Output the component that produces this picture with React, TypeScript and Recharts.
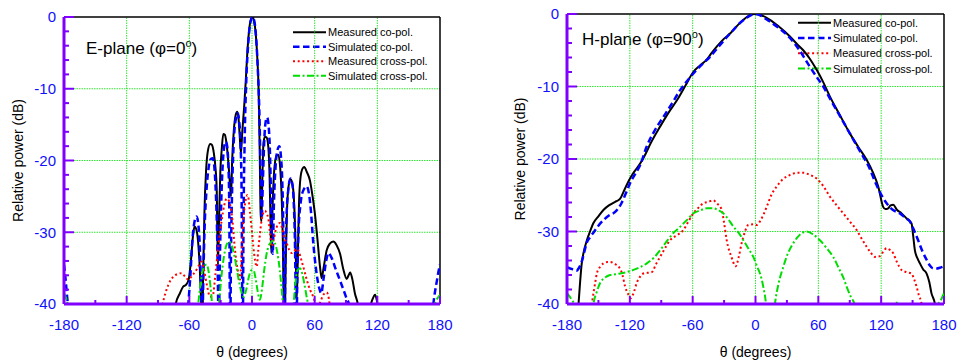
import React from 'react';
import { LineChart, Line, XAxis, YAxis, ReferenceLine } from 'recharts';

type Pt = [number, number];

// axes
const thetaTicks = [-180, -150, -120, -90, -60, -30, 0, 30, 60, 90, 120, 150, 180];
const dbTicks = [-40, -38, -36, -34, -32, -30, -28, -26, -24, -22, -20, -18, -16, -14, -12, -10, -8, -6, -4, -2, 0];
const gridTheta = [-120, -60, 0, 60, 120];
const gridDb = [-30, -20, -10];
const legendNames = ['Measured co-pol.', 'Simulated co-pol.', 'Measured cross-pol.', 'Simulated cross-pol.'];

// E-plane (phi = 0), [theta, dB]
const eMeasCo: Pt[] = [
  [-76, -44], [-73, -40], [-69, -38.5], [-66, -37.6], [-63, -37.3], [-60.5, -36.5], [-58.5, -34], [-56.5, -30.5],
  [-55, -29.2], [-53.5, -29.5], [-51.5, -31.5], [-50, -35], [-48.5, -40.5], [-47.5, -44], [-46.8, -36], [-45.5, -27],
  [-44, -21.5], [-42.4, -18.8], [-40, -17.7], [-38.5, -17.8], [-36.5, -19], [-35, -21], [-33.8, -24], [-32.6, -34.5],
  [-31.5, -28], [-30.3, -21.5], [-29, -18.5], [-27.5, -16.3], [-26, -16.4], [-24.5, -17.5], [-22.5, -20.5], [-21, -23.5],
  [-20.1, -25], [-19, -20], [-17.5, -16], [-15.5, -13.6], [-14.1, -13.2], [-12.8, -14.3], [-11.8, -16.5], [-10.6, -19],
  [-9.3, -16], [-7.5, -12.5], [-6, -9], [-4.5, -5], [-3, -2.2], [-1.5, -0.6], [0.5, 0], [2, -0.6], [3.5, -2.2], [5, -5.5],
  [6.3, -10], [7.3, -18], [8.3, -27.5], [9, -28.5], [10, -22], [11, -17.5], [12.4, -16.7], [14, -16.8], [15.6, -18.1],
  [16.8, -22], [17.8, -29], [18.5, -32.9], [19.8, -26], [21.5, -21], [23.6, -19.3], [25.2, -19.2], [27, -21], [28.4, -25],
  [29.5, -31], [30.5, -40.5], [31.2, -44], [32.3, -34], [33.5, -27], [35, -23.6], [37, -22.6], [39, -23.5], [40.5, -26.5],
  [41.8, -32], [42.8, -39.5], [43.8, -34], [45, -26], [46.5, -22.3], [48.5, -21.1], [50, -20.9], [52.5, -21.6],
  [55.5, -22.8], [58, -25], [60.3, -27.5], [63, -31.5], [65.1, -34.8], [66.7, -36.4], [68.5, -35], [71.5, -32.5],
  [74.5, -31.6], [77.8, -31.3], [81, -31.8], [84.3, -33], [87.5, -35.2], [90.6, -36.5], [92.5, -36], [94, -35.6],
  [96, -36.5], [98.5, -38.5], [101.8, -40.5], [104, -44], [109, -44], [113, -40.5], [115.5, -39.3], [117.8, -38.7],
  [119.5, -39.5], [121, -40.8], [123, -44],
];
const eSimCo: Pt[] = [
  [-180, -34.5], [-178.5, -36.5], [-177, -39], [-175.5, -41], [-174, -44],
  [-64, -44], [-61, -40], [-59, -36], [-57, -31], [-55, -28.5], [-53, -27.8], [-51.3, -29], [-50, -32], [-49, -36.5],
  [-48.2, -41], [-47.5, -44], [-46.8, -38], [-45.5, -30], [-43.5, -24], [-41.5, -21], [-39.5, -19.8], [-37.5, -19.7],
  [-36, -21], [-34.5, -25], [-33.3, -31], [-32.3, -40.5], [-31.8, -44], [-31, -36], [-29.5, -26], [-28, -20.5],
  [-26.5, -18], [-25.2, -17.4], [-24, -17.8], [-22.8, -20], [-21.8, -26], [-21.2, -40.5], [-20.8, -44], [-20.2, -34],
  [-19, -24], [-17.5, -17.5], [-15.5, -14.2], [-13.7, -13.4], [-12.3, -14.5], [-11, -17.5], [-10, -24], [-9.3, -40.5],
  [-8.8, -44], [-8.2, -30], [-7, -17], [-5.5, -9], [-3.5, -3.5], [-1.5, -0.7], [0.6, 0], [2.5, -0.8], [4, -3], [5.5, -7],
  [7, -13], [8.2, -21], [9.3, -28], [10.4, -23], [11.8, -17], [13.2, -14.5], [14.5, -14], [15.8, -15], [17, -18],
  [18, -23.5], [19, -31], [19.8, -33], [21, -26], [22.5, -21], [24.3, -18.6], [26.2, -18], [27.8, -19.6], [29, -23],
  [30, -30], [30.6, -40.5], [31.2, -44], [31.8, -36], [33, -28], [34.8, -24], [36.8, -22.5], [38.5, -23.2], [40, -26],
  [41.2, -32], [42, -40.5], [42.6, -44], [43.3, -37], [44.5, -30], [46.5, -26], [49, -24.2], [52.3, -23.6],
  [54.5, -24.6], [56.5, -27.2], [58.5, -31.2], [61, -34.8], [64.4, -37.8], [66.3, -38.5], [68.5, -36.5], [71, -34],
  [73.3, -32.9], [76, -33.5], [80.3, -35.2], [85, -37], [90, -39], [93.5, -40.5], [95.5, -44],
  [171.5, -44], [173.3, -40.5], [175, -38.5], [177, -36.8], [178.5, -35.5], [180, -34.5],
];
const eMeasX: Pt[] = [
  [-90, -44], [-85.5, -40], [-80, -37.3], [-75.4, -36.2], [-71, -35.8], [-67.3, -35.7], [-64, -36.2], [-61, -36.6],
  [-57, -36], [-53, -35.2], [-50.5, -34.5], [-48.2, -34.1], [-46, -35.2], [-43, -37.5], [-40.2, -39], [-37.5, -38.8],
  [-35, -35.8], [-32.3, -32], [-29, -28.3], [-26.5, -26.2], [-24.2, -25.3], [-22.5, -25.5], [-19.5, -27.3],
  [-16.3, -32.4], [-13.1, -35.7], [-11.5, -36.6], [-10, -33.5], [-8.9, -29.7], [-7.2, -26.6], [-5.7, -25.3],
  [-4.5, -24.8], [-3.2, -25.4], [-1.9, -27.3], [0, -30], [1.3, -32], [3, -34], [4.5, -34.8], [6, -32.5], [7.7, -30.1],
  [9.3, -28.2], [10.8, -27.3], [12.4, -27], [14, -27.4], [15.6, -28.1], [17.2, -30], [18.8, -32], [20.5, -31.2],
  [22.5, -29.8], [24.5, -29], [26.8, -28.7], [29, -29.5], [31, -30.8], [33.2, -31.5], [35.5, -32.4], [38, -32.9],
  [40.5, -32.6], [42.8, -32.3], [45, -32.8], [47.5, -34], [50, -35.3], [52.4, -36.6], [55.5, -38], [58.7, -39],
  [61, -40], [63, -40.5], [65.5, -39.7], [68.3, -38.7], [71.5, -38.4], [73.5, -39.2], [75, -41], [77, -44],
];
const eSimX: Pt[] = [
  [-180, -38.5], [-178, -39.2], [-176, -40.5], [-174, -44],
  [-54, -44], [-51.5, -40], [-49.5, -37.5], [-47.5, -35.5], [-45.5, -34.7], [-43.4, -34.5], [-41.5, -35.5],
  [-39.8, -37.5], [-38.3, -40], [-37, -44], [-33.5, -44], [-31.5, -40], [-29.5, -36.5], [-27, -33.5], [-24.5, -31.8],
  [-22, -31.3], [-19.5, -31.8], [-17, -33.2], [-14.5, -35.2], [-12, -37.2], [-10.2, -38.3], [-8, -39], [-5.5, -38],
  [-3, -36.2], [-0.5, -35.3], [1.5, -35.3], [3.5, -36.5], [5.5, -38.3], [7.6, -39.4], [9.5, -38], [11.5, -35.5],
  [14, -33], [17, -31.6], [20.4, -31.2], [23, -32], [25.5, -34], [27.8, -37], [29.7, -40.5], [31, -44],
  [37.5, -44], [39.6, -40.5], [41.5, -37.2], [43.5, -35.3], [45.9, -35], [48.2, -35.8], [50.5, -37.5], [53, -39.5],
  [55.5, -41], [57, -44],
  [171, -44], [174, -40.5], [176.5, -39.5], [178.5, -39], [180, -38.8],
];

// H-plane (phi = 90), [theta, dB]
const hMeasCo: Pt[] = [
  [-172, -44], [-169, -40], [-167.5, -37], [-166, -34.5], [-164.3, -33], [-161, -31.2], [-158, -30], [-155, -28.9],
  [-150, -27.9], [-145, -27], [-140, -26.4], [-134, -25.9], [-131, -25.7], [-128.5, -25.3], [-125, -24.2],
  [-121, -23], [-117, -22], [-110, -20.6], [-105, -19.3], [-100, -17.8], [-91, -15.5], [-83, -13.6], [-75, -11.9],
  [-67, -9.9], [-59.4, -8], [-53, -7.1], [-46.6, -6.3], [-42, -5.4], [-37, -4.5], [-30, -3.4], [-24.3, -2.7],
  [-18, -1.7], [-11.6, -0.8], [-6, -0.2], [0, 0], [6, -0.2], [13.8, -0.8], [22, -1.7], [32.9, -3.1], [40, -4.2],
  [45.6, -5], [52, -6.2], [58.4, -7.7], [65, -9.5], [71.1, -11.4], [80, -13.8], [90.2, -16.5], [98, -18.3],
  [106.1, -20.1], [112, -21.8], [117.2, -23.8], [121.9, -26.6], [124, -26.9], [126.7, -26.8], [129, -26.4],
  [131.5, -26.3], [135, -27], [139.5, -27.5], [144.3, -28.2], [149, -28.9], [150.5, -30.5], [152.2, -32.6],
  [155, -33.8], [157, -34.4], [160, -35.2], [163.4, -35.8], [166, -37], [168, -38.5], [171.3, -40], [173, -44],
];
const hSimCo: Pt[] = [
  [-180, -34.9], [-175, -35.2], [-171, -35.4], [-168.5, -35], [-166, -34.2], [-164.3, -33.3], [-161, -31.5],
  [-158, -30.8], [-155, -30.2], [-150, -29.2], [-145, -28.4], [-140, -27.8], [-134, -27.3], [-128, -26.1],
  [-124, -24.8], [-120, -23.4], [-115, -22.1], [-110, -20.8], [-104, -18.3], [-96, -16], [-88, -14.2], [-80, -12.4],
  [-72, -10.5], [-64, -9], [-56.1, -7.7], [-50, -6.8], [-43.4, -5.9], [-34, -4.3], [-24.3, -2.7], [-12, -0.9], [0, 0],
  [12, -0.9], [22, -1.9], [32.9, -3.3], [42, -5], [52, -7.3], [58, -8.6], [64.7, -10], [72, -11.9], [80, -13.9],
  [90.2, -16.5], [100, -19], [108, -21], [115.6, -23.6], [120, -24.9], [125.2, -26.1], [131, -27], [137.9, -27.5],
  [143, -28.1], [147.4, -28.6], [151, -29.7], [155.3, -31.2], [159, -32.6], [163.4, -33.9], [166.5, -34.7],
  [169.7, -35.1], [173, -35.1], [176, -35], [180, -34.8],
];
const hMeasX: Pt[] = [
  [-160, -44], [-156.3, -40], [-153, -37], [-151.5, -35.8], [-148, -34.8], [-145.2, -34.4], [-141, -34.2],
  [-138.8, -34.2], [-134, -34.5], [-130.9, -34.8], [-127, -36], [-124.5, -37.6], [-121, -38.8], [-119.1, -39.2],
  [-116, -38.3], [-113.4, -37.1], [-110, -36.2], [-107.1, -35.8], [-103, -35.7], [-99, -35.6], [-95, -34.5],
  [-91.1, -33.5], [-86, -32.2], [-81.6, -31.2], [-75, -30.5], [-68.9, -29.8], [-64, -28.6], [-59.4, -27.5],
  [-55, -26.8], [-49.8, -26.1], [-45, -25.9], [-40.3, -25.7], [-37, -26.1], [-32.3, -27], [-30, -28.8],
  [-27.5, -31.2], [-23, -33.5], [-18.9, -34.8], [-16, -33.5], [-13.2, -31.6], [-10, -30], [-6.9, -29.1], [-2, -29],
  [1.1, -29.1], [4.3, -28.6], [7.5, -27.7], [10.7, -26.6], [15, -25], [20.2, -23.8], [26, -22.8], [32.9, -22.2],
  [40, -21.9], [45.6, -21.9], [52, -22.2], [58.4, -22.7], [65, -23.8], [71.1, -25.2], [77, -26.3], [83.8, -27.5],
  [90, -28.6], [96.6, -29.8], [101, -30.9], [106.1, -32.1], [110, -32.9], [114, -33.5], [118.8, -33.4], [122, -32.8],
  [125.2, -32.3], [128, -32.5], [131.5, -33], [135, -34.2], [139.5, -35.3], [144, -35.6], [149, -35.8],
  [151.5, -36.6], [153.8, -37.6], [156, -38.8], [158.6, -40], [161, -44],
];
const hSimX: Pt[] = [
  [-180, -38.5], [-176, -39.3], [-172, -40.5], [-168, -44], [-158, -44], [-154.8, -40], [-151.5, -38.3],
  [-148.4, -37.1], [-144, -36.4], [-138.8, -36], [-134, -35.9], [-129.3, -35.8], [-123, -35.6], [-116.6, -35.3],
  [-110, -34.9], [-103.8, -34.4], [-97, -33.6], [-91.1, -32.6], [-85, -31.4], [-78.4, -30.2], [-73, -29.5],
  [-68.9, -28.9], [-64, -28.2], [-59.4, -27.5], [-53, -27.1], [-46.6, -26.8], [-40.3, -26.8], [-35, -27.1],
  [-30.7, -27.5], [-26, -28.3], [-21.2, -29.3], [-16, -30.2], [-11.6, -31.2], [-7, -32.3], [-2.1, -33.5], [2, -35],
  [4.3, -35.8], [7.4, -37.6], [10, -40], [12, -44], [16, -44], [18.6, -40], [22, -37.2], [26.5, -34.9], [31, -33],
  [36.1, -31.6], [42, -30.5], [48.9, -30], [55, -30.4], [61.5, -31.2], [68, -32.3], [74.2, -33.5], [80, -35.2],
  [84, -36.4], [87, -37.6], [91, -39], [95, -40.2], [98, -44], [128, -44], [131, -40.3], [134, -39.8], [137, -40.3],
  [140, -44], [170, -44], [173, -40.3], [176.5, -39.6], [180, -38.5],
];

const PURPLE = '#8000ff';
const BLUE = '#1010ff';
const GRID = '#33e633';
const FONT = '"Liberation Sans", Arial, sans-serif';

const STYLES = [
  { stroke: '#000000', width: 2, dash: undefined as string | undefined },
  { stroke: '#0000ff', width: 2.5, dash: '6.5 3.5' },
  { stroke: '#ff0000', width: 2, dash: '2 2.7' },
  { stroke: '#00dd00', width: 2, dash: '7 2.5 2 2.5' },
];

const toRows = (pts: Pt[]) => pts.map(([t, v]) => ({ t, v }));

const YTick = (props: any) => {
  const { x, y, payload } = props;
  const major = payload.value % 10 === 0;
  return (
    <g>
      <line x1={x} x2={x + (major ? 10 : 5)} y1={y} y2={y} stroke={PURPLE} strokeWidth={2} />
      {major && (
        <text x={x - 8} y={y + 5.3} textAnchor="end" fill={BLUE} fontSize={15} fontFamily={FONT}>
          {payload.value}
        </text>
      )}
    </g>
  );
};

const XTick = (props: any) => {
  const { x, y, payload } = props;
  const major = payload.value % 60 === 0;
  return (
    <g>
      <line x1={x} x2={x} y1={y} y2={y - (major ? 8 : 4)} stroke={PURPLE} strokeWidth={2} />
      {major && (
        <text x={x} y={y + 26} textAnchor="middle" fill={BLUE} fontSize={15} fontFamily={FONT}>
          {payload.value}
        </text>
      )}
    </g>
  );
};

interface PanelProps {
  left: number;
  width: number;
  top: number;
  right: number;
  axisW: number;
  series: Pt[][];
  title: string;
  titleX: number;
  titleY: number;
  legX: number;
  legRows: number[];
}

const Panel = ({ left, width, top, right, axisW, series, title, titleX, titleY, legX, legRows }: PanelProps) => {
  const plotMid = axisW + (width - axisW - right) / 2;
  const plotMidY = top + (304 - top) / 2;
  return (
    <div style={{ position: 'absolute', left, top: 0 }}>
      <LineChart width={width} height={360} margin={{ top, right, left: 0, bottom: 0 }}>
        <XAxis
          type="number"
          dataKey="t"
          domain={[-180, 180]}
          ticks={thetaTicks}
          interval={0}
          allowDataOverflow
          height={360 - 304}
          tickSize={0}
          tickMargin={0}
          tickLine={false}
          axisLine={{ stroke: PURPLE, strokeWidth: 3 }}
          tick={XTick}
        />
        <YAxis
          type="number"
          domain={[-40, 0]}
          ticks={dbTicks}
          interval={0}
          allowDataOverflow
          width={axisW}
          tickSize={0}
          tickMargin={0}
          tickLine={false}
          axisLine={{ stroke: PURPLE, strokeWidth: 3 }}
          tick={YTick}
        />
        {gridTheta.map((g) => (
          <ReferenceLine key={`gx${g}`} x={g} stroke={GRID} strokeDasharray="1.5 1" />
        ))}
        {gridDb.map((g) => (
          <ReferenceLine key={`gy${g}`} y={g} stroke={GRID} strokeDasharray="1.5 1" />
        ))}
        <ReferenceLine y={0} stroke="#000" strokeWidth={1.5} />
        <ReferenceLine x={180} stroke="#000" strokeWidth={1.5} />
        {series.map((pts, i) => (
          <Line
            key={legendNames[i]}
            data={toRows(pts)}
            dataKey="v"
            name={legendNames[i]}
            type="monotone"
            stroke={STYLES[i].stroke}
            strokeWidth={STYLES[i].width}
            strokeDasharray={STYLES[i].dash}
            dot={false}
            activeDot={false}
            isAnimationActive={false}
          />
        ))}
        <text x={titleX} y={titleY} fontSize={17} fontFamily={FONT} fill="#000">
          {title}
          <tspan dy={-7} fontSize={11}>o</tspan>
          <tspan dy={7} fontSize={17}>)</tspan>
        </text>
        {legendNames.map((name, i) => (
          <g key={name}>
            <line
              x1={legX}
              x2={legX + 33}
              y1={legRows[i]}
              y2={legRows[i]}
              stroke={STYLES[i].stroke}
              strokeWidth={STYLES[i].width}
              strokeDasharray={STYLES[i].dash}
            />
            <text x={legX + 35} y={legRows[i] + 4} fontSize={11} fontFamily={FONT} fill="#000">
              {name}
            </text>
          </g>
        ))}
        <text
          x={18}
          y={plotMidY}
          transform={`rotate(-90, 18, ${plotMidY})`}
          textAnchor="middle"
          dominantBaseline="central"
          fontSize={14}
          fontFamily={FONT}
          fill="#000"
        >
          Relative power (dB)
        </text>
        <text x={plotMid} y={357} textAnchor="middle" fontSize={14} fontFamily={FONT} fill="#000">
          θ (degrees)
        </text>
      </LineChart>
    </div>
  );
};

export default function App() {
  return (
    <div style={{ position: 'absolute', left: 0, top: 0, width: 959, height: 360, background: '#fff', fontFamily: FONT }}>
      <Panel
        left={0}
        width={470}
        top={17}
        right={30}
        axisW={64}
        series={[eMeasCo, eSimCo, eMeasX, eSimX]}
        title="E-plane (φ=0"
        titleX={86}
        titleY={54}
        legX={293}
        legRows={[32.3, 46.8, 61.3, 75.8]}
      />
      <Panel
        left={502}
        width={457}
        top={14}
        right={15}
        axisW={65}
        series={[hMeasCo, hSimCo, hMeasX, hSimX]}
        title="H-plane (φ=90"
        titleX={80}
        titleY={45}
        legX={296}
        legRows={[22.7, 38, 53.3, 68.6]}
      />
    </div>
  );
}
